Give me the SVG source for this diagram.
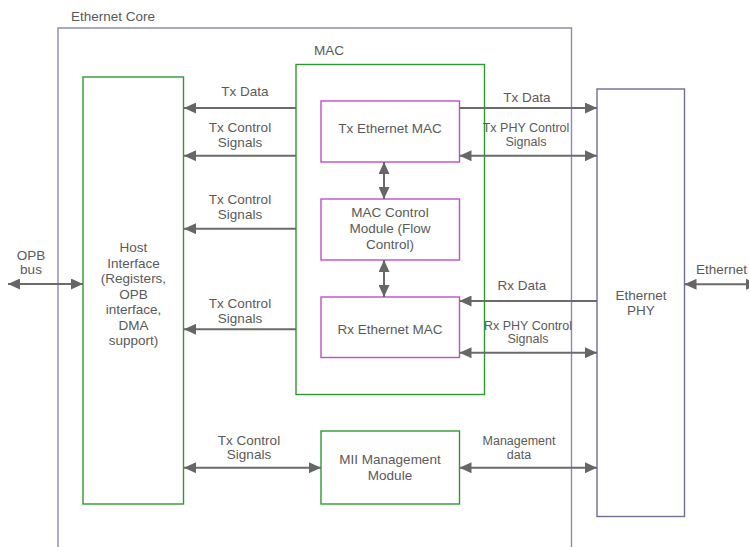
<svg xmlns="http://www.w3.org/2000/svg" width="749" height="547" viewBox="0 0 749 547">
<defs>
<marker id="ah" markerUnits="userSpaceOnUse" markerWidth="12" markerHeight="11" refX="12" refY="5.5" orient="auto-start-reverse">
<path d="M0,0 L12,5.5 L0,11 z" fill="#666666"/>
</marker>
<style>
text{font-family:"Liberation Sans",Arial,sans-serif;fill:#5a5a5a;font-size:13.5px}
.s{font-size:12.5px}
.m{text-anchor:middle}
.c{stroke:#6b6b6b;stroke-width:2;fill:none}
.g{fill:#ffffff;stroke:#2e9a2e;stroke-width:1.4}
.p{fill:#ffffff;stroke:#c24dc8;stroke-width:1.4}
.v{fill:none;stroke:#8c8cab;stroke-width:1.4}
</style>
</defs>
<rect width="749" height="547" fill="#ffffff"/>
<g id="ethernet-core">
<path class="v" d="M58,549 L58,28 L571.5,28 L571.5,549"/>
<text x="71" y="21">Ethernet Core</text>
</g>
<g id="host-interface">
<rect class="g" x="83" y="77" width="100.5" height="427"/>
<text class="m" x="133.5" y="252">Host</text>
<text class="m" x="133.5" y="267.5">Interface</text>
<text class="m" x="133.5" y="283">(Registers,</text>
<text class="m" x="133.5" y="298.5">OPB</text>
<text class="m" x="133.5" y="314">interface,</text>
<text class="m" x="133.5" y="329.5">DMA</text>
<text class="m" x="133.5" y="345">support)</text>
</g>
<g id="mac">
<rect class="g" x="296" y="64.5" width="188.5" height="330"/>
<text x="314" y="55">MAC</text>
</g>
<g id="tx-ethernet-mac">
<rect class="p" x="321" y="101" width="138.5" height="61"/>
<text class="m" x="390" y="132.5">Tx Ethernet MAC</text>
</g>
<g id="mac-control-module">
<rect class="p" x="321" y="199" width="138.5" height="61"/>
<text class="m" x="390" y="216.5">MAC Control</text>
<text class="m" x="390" y="232.5">Module (Flow</text>
<text class="m" x="390" y="248.5">Control)</text>
</g>
<g id="rx-ethernet-mac">
<rect class="p" x="321" y="297" width="138.5" height="60.5"/>
<text class="m" x="390" y="333.5">Rx Ethernet MAC</text>
</g>
<g id="mii-management-module">
<rect class="g" x="321" y="431" width="138.5" height="73"/>
<text class="m" x="390" y="464">MII Management</text>
<text class="m" x="390" y="480">Module</text>
</g>
<g id="ethernet-phy">
<rect x="597" y="89" width="87.5" height="427.5" fill="#ffffff" stroke="#6e6e96" stroke-width="1.4"/>
<text class="m" x="641" y="299.5">Ethernet</text>
<text class="m" x="641" y="315">PHY</text>
</g>
<g id="connectors">
<line class="c" x1="296" y1="108" x2="184" y2="108" marker-end="url(#ah)"/>
<line class="c" x1="296" y1="155.7" x2="184" y2="155.7" marker-end="url(#ah)"/>
<line class="c" x1="296" y1="228.7" x2="184" y2="228.7" marker-end="url(#ah)"/>
<line class="c" x1="296" y1="329.3" x2="184" y2="329.3" marker-end="url(#ah)"/>
<line class="c" x1="184" y1="467.7" x2="321" y2="467.7" marker-start="url(#ah)" marker-end="url(#ah)"/>
<line class="c" x1="8" y1="284" x2="83" y2="284" marker-start="url(#ah)" marker-end="url(#ah)"/>
<line class="c" x1="459.5" y1="108" x2="597" y2="108" marker-end="url(#ah)"/>
<line class="c" x1="459.5" y1="155.7" x2="597" y2="155.7" marker-start="url(#ah)" marker-end="url(#ah)"/>
<line class="c" x1="597" y1="301" x2="459.5" y2="301" marker-end="url(#ah)"/>
<line class="c" x1="459.5" y1="352.7" x2="597" y2="352.7" marker-start="url(#ah)" marker-end="url(#ah)"/>
<line class="c" x1="459.5" y1="467.7" x2="597" y2="467.7" marker-start="url(#ah)" marker-end="url(#ah)"/>
<line class="c" x1="684.5" y1="284.3" x2="758" y2="284.3" marker-start="url(#ah)" marker-end="url(#ah)"/>
<line class="c" x1="384" y1="162" x2="384" y2="199" marker-start="url(#ah)" marker-end="url(#ah)"/>
<line class="c" x1="384" y1="260" x2="384" y2="297" marker-start="url(#ah)" marker-end="url(#ah)"/>
<text class="m" x="245" y="96">Tx Data</text>
<text class="m" x="240" y="132">Tx Control</text>
<text class="m" x="240" y="147">Signals</text>
<text class="m" x="240" y="204">Tx Control</text>
<text class="m" x="240" y="219">Signals</text>
<text class="m" x="240" y="308">Tx Control</text>
<text class="m" x="240" y="323">Signals</text>
<text class="m" x="249" y="444.5">Tx Control</text>
<text class="m" x="249" y="459">Signals</text>
<text class="m" x="31" y="259.5">OPB</text>
<text class="m" x="31" y="274">bus</text>
<text class="m" x="527" y="102">Tx Data</text>
<text class="m s" x="526" y="132">Tx PHY Control</text>
<text class="m s" x="526" y="146">Signals</text>
<text class="m" x="522" y="289.5">Rx Data</text>
<text class="m s" x="528" y="329.5">Rx PHY Control</text>
<text class="m s" x="528" y="343">Signals</text>
<text class="m s" x="519" y="445">Management</text>
<text class="m s" x="519" y="458.5">data</text>
<text class="m" x="721.5" y="274">Ethernet</text>
</g>
</svg>
